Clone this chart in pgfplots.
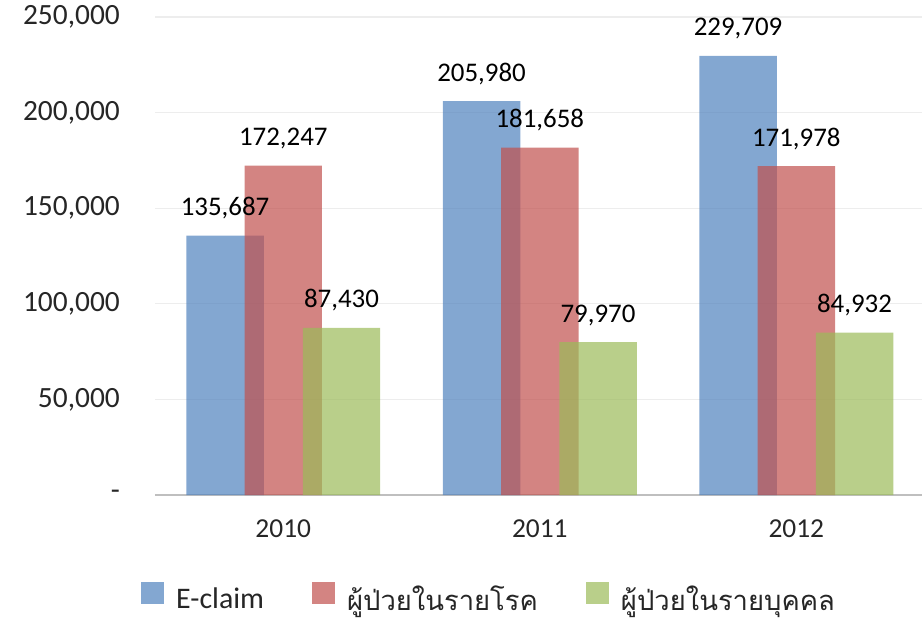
\documentclass[border=0pt]{standalone}
\usepackage{fontspec}
\setmainfont{Carlito}
\newfontfamily\thaifont[Script=Thai]{Loma}
\usepackage{pgfplots}
\pgfplotsset{compat=1.18}
\definecolor{cblue}{RGB}{79,129,189}
\definecolor{cred}{RGB}{192,80,77}
\definecolor{cgreen}{RGB}{155,187,89}
\pgfplotsset{
  sqlegend/.style={legend image code/.code={\fill[##1] (0bp,-6bp) rectangle (23bp,16bp);}},
  lbl/.style={draw=none, mark=none, forget plot,
    nodes near coords,
    every node near coord/.append style={anchor=base, yshift=20bp, inner sep=0pt,
      text=black, text opacity=1, font=\fontsize{27}{32}\selectfont}},
}
\begin{document}
\begin{tikzpicture}
\path[use as bounding box] (-155bp,-128bp) rectangle (767bp,495bp);
\begin{axis}[
  at={(0,0)}, anchor=south west,
  scale only axis, width=767bp, height=478bp,
  xmin=-0.5, xmax=2.49, ymin=0, ymax=250000,
  axis lines*=left,
  y axis line style={draw=none},
  x axis line style={draw=black!25, line width=2bp},
  major tick length=0pt,
  tick style={draw=none},
  scaled y ticks=false,
  ymajorgrids, grid style={draw=black!7, line width=1.2bp},
  xtick={0,1,2}, xticklabels={2010,2011,2012},
  ytick={0,50000,100000,150000,200000,250000},
  yticklabels={{-\hspace{13bp}},{50,000},{100,000},{150,000},{200,000},{250,000}},
  xticklabel style={anchor=base, yshift=-42bp, inner sep=0pt, text=black!85,
    font=\fontsize{27.5}{33}\selectfont},
  yticklabel style={anchor=east, xshift=-35bp, inner sep=0pt, text=black!85,
    font=\fontsize{29.5}{35}\selectfont},
  /pgf/number format/assume math mode=true,
  /pgf/number format/fixed, /pgf/number format/precision=0,
  /pgf/number format/1000 sep={,},
  legend columns=3,
  legend style={at={(-0.01825,-0.2134)}, anchor=west, draw=none, fill=none,
    inner sep=0pt, text=black!85, font=\fontsize{30}{36}\selectfont,
    nodes={inner sep=0pt},
    /tikz/every odd column/.append style={column sep=12bp},
    /tikz/every even column/.append style={column sep=48bp}},
]
\addplot[ybar, bar width=0.302, bar shift=-0.227, fill=cblue, fill opacity=0.7, draw=none, sqlegend]
  coordinates {(0,135687) (1,205980) (2,229709)};
\addlegendentry{E-claim}
\addplot[ybar, bar width=0.302, bar shift=0, fill=cred, fill opacity=0.7, draw=none, sqlegend]
  coordinates {(0,172247) (1,181658) (2,171978)};
\addlegendentry{\fontsize{27.5}{33}\thaifont ผู้ป่วยในรายโรค}
\addplot[ybar, bar width=0.302, bar shift=0.227, fill=cgreen, fill opacity=0.7, draw=none, sqlegend]
  coordinates {(0,87430) (1,79970) (2,84932)};
\addlegendentry{\fontsize{27.5}{33}\thaifont ผู้ป่วยในรายบุคคล}
\addplot[lbl] coordinates {(-0.227,135687) (0.773,205980) (1.773,229709)};
\addplot[lbl] coordinates {(0,172247) (1,181658) (2,171978)};
\addplot[lbl] coordinates {(0.227,87430) (1.227,79970) (2.227,84932)};
\end{axis}
\end{tikzpicture}
\end{document}
